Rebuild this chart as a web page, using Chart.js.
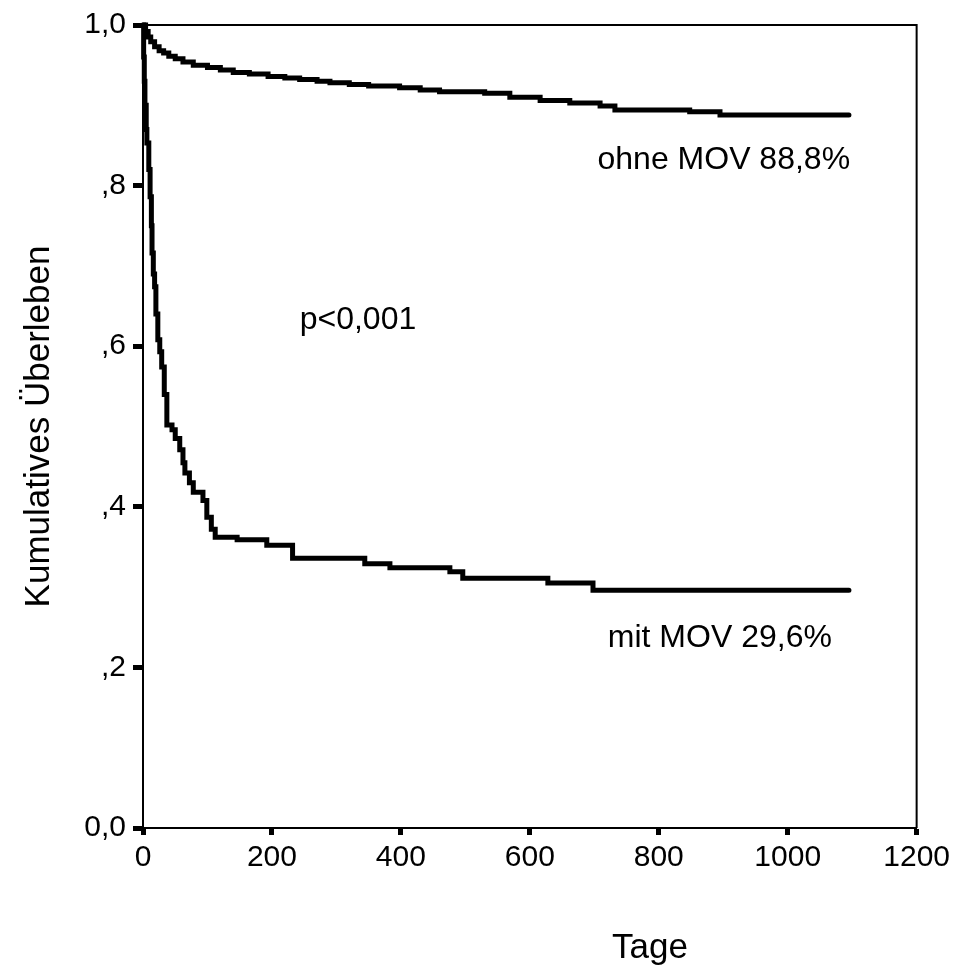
<!DOCTYPE html>
<html>
<head>
<meta charset="utf-8">
<script src="https://cdn.jsdelivr.net/npm/chart.js@4.4.1/dist/chart.umd.min.js"></script>
<style>
html,body{margin:0;padding:0;background:#fff;}
#wrap{width:955px;height:973px;}
</style>
</head>
<body>
<div id="wrap"><canvas id="c" width="955" height="973"></canvas></div>
<script>
// Data (Kaplan-Meier)
const daysOhne = [0,4,8,12,18,25,32,40,50,62,78,100,120,140,165,194,220,243,270,290,320,350,398,430,460,530,569,616,662,709,732,848,895,1095];
const survOhne = [1.0,0.992,0.985,0.979,0.973,0.968,0.965,0.961,0.958,0.954,0.950,0.947,0.944,0.941,0.939,0.936,0.934,0.932,0.930,0.928,0.926,0.924,0.922,0.919,0.917,0.915,0.910,0.906,0.903,0.899,0.894,0.892,0.888,0.888];
const daysMit = [0,1,2,3,5,6,9,11,13,14,16,18,20,23,26,29,33,37,45,50,57,62,65,72,78,93,99,106,112,146,192,232,344,383,476,496,628,698,1095];
const survMit = [1.0,0.96,0.93,0.90,0.87,0.853,0.82,0.786,0.75,0.716,0.69,0.674,0.64,0.608,0.593,0.574,0.54,0.502,0.496,0.485,0.471,0.455,0.442,0.43,0.418,0.408,0.387,0.372,0.362,0.359,0.352,0.336,0.329,0.324,0.319,0.311,0.305,0.296,0.296];
const xTicks = [0,200,400,600,800,1000,1200];
const xTickLabels = ['0','200','400','600','800','1000','1200'];
const yTickValues = [0,0.2,0.4,0.6,0.8,1];
const yTickLabels = ['0,0',',2',',4',',6',',8','1,0'];
const annotations = [
  {text:'ohne MOV 88,8%', x:705, y:0.832},
  {text:'p<0,001', x:243, y:0.633},
  {text:'mit MOV 29,6%', x:721, y:0.237}
];
const xTitle = 'Tage';
const yTitle = 'Kumulatives Überleben';

const FONT = '"Liberation Sans", Arial, sans-serif';
const toPts = (xs, ys) => xs.map((x,i)=>({x:x, y:ys[i]}));

const extras = {
  id:'extras',
  afterDraw(chart){
    const {ctx, chartArea:a, scales} = chart;
    ctx.save();
    ctx.strokeStyle = '#000';
    ctx.lineWidth = 2;
    ctx.beginPath();
    ctx.moveTo(a.left, a.top); ctx.lineTo(a.right, a.top); ctx.lineTo(a.right, a.bottom);
    ctx.stroke();
    ctx.fillStyle = '#000';
    ctx.font = '32px ' + FONT;
    ctx.textBaseline = 'middle';
    ctx.textAlign = 'left';
    annotations.forEach(an=>{
      ctx.fillText(an.text, scales.x.getPixelForValue(an.x), scales.y.getPixelForValue(an.y));
    });
    ctx.font = '35px ' + FONT;
    ctx.textAlign = 'center';
    ctx.fillText(xTitle, 650, 948);
    ctx.restore();
  }
};

new Chart(document.getElementById('c'), {
  type:'line',
  data:{
    datasets:[
      {label:'ohne MOV', data:toPts(daysOhne, survOhne), stepped:true, borderColor:'#000', borderWidth:5, pointRadius:0, borderCapStyle:'round', borderJoinStyle:'miter', clip:false, fill:false},
      {label:'mit MOV', data:toPts(daysMit, survMit), stepped:true, borderColor:'#000', borderWidth:5, pointRadius:0, borderCapStyle:'round', borderJoinStyle:'miter', clip:false, fill:false}
    ]
  },
  options:{
    responsive:false,
    animation:false,
    devicePixelRatio:1,
    layout:{padding:{top:25, right:38, left:0, bottom:0}},
    plugins:{legend:{display:false}, tooltip:{enabled:false}, title:{display:false}},
    scales:{
      x:{
        type:'linear', min:0, max:1200,
        afterBuildTicks(s){ s.ticks = xTicks.map(v=>({value:v})); },
        afterFit(s){ s.height = 145; },
        border:{display:true, color:'#000', width:2},
        grid:{drawOnChartArea:false, drawTicks:true, tickLength:7, tickWidth:5, tickColor:'#000', color:'#000'},
        ticks:{color:'#000', font:{family:FONT, size:30}, padding:5, maxRotation:0, autoSkip:false,
          callback:(v)=> { const i = xTicks.indexOf(v); return i >= 0 ? xTickLabels[i] : ''; }}
      },
      y:{
        type:'linear', min:0, max:1,
        afterBuildTicks(s){ s.ticks = yTickValues.map(v=>({value:v})); },
        afterFit(s){ s.width = 143; },
        border:{display:true, color:'#000', width:2},
        grid:{drawOnChartArea:false, drawTicks:true, tickLength:10, tickWidth:5, tickColor:'#000', color:'#000'},
        ticks:{color:'#000', font:{family:FONT, size:30}, padding:7, autoSkip:false,
          callback:(v)=> { const i = yTickValues.findIndex(t=>Math.abs(t-v)<1e-6); return i >= 0 ? yTickLabels[i] : ''; }},
        title:{display:true, text:yTitle, color:'#000', font:{family:FONT, size:35}, padding:{top:18,bottom:0}}
      }
    }
  },
  plugins:[extras]
});
</script>
</body>
</html>
